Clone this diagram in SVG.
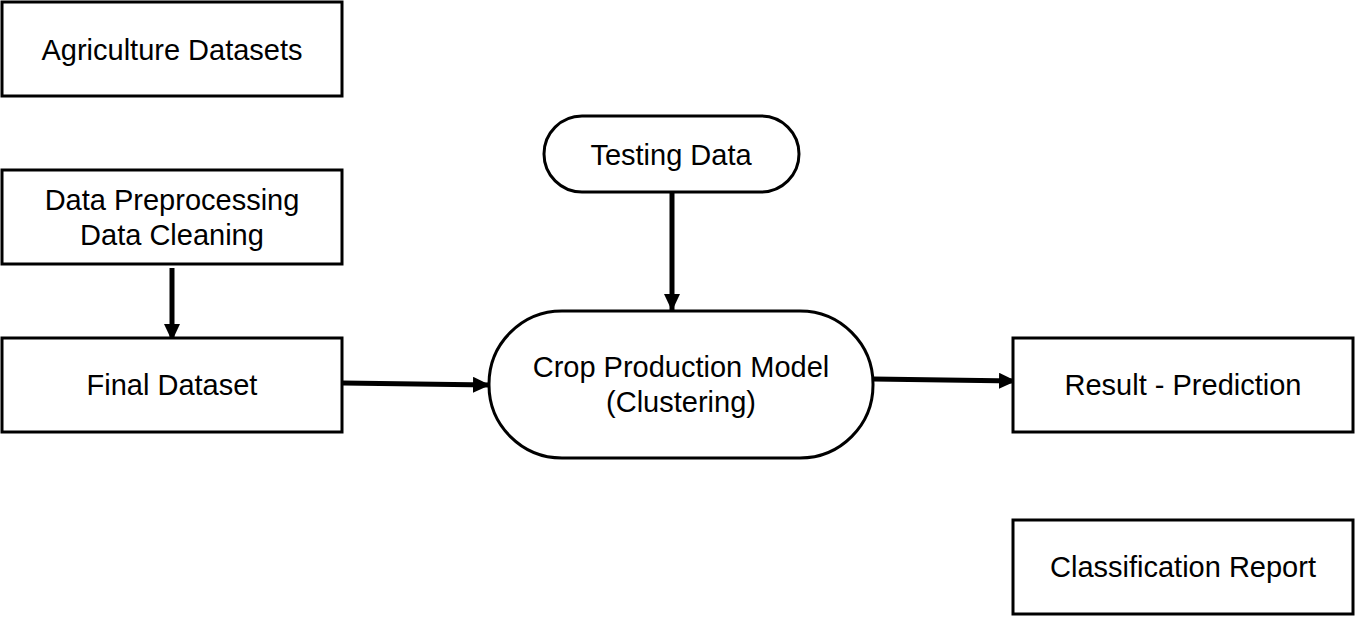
<svg xmlns="http://www.w3.org/2000/svg" width="1355" height="617" viewBox="0 0 1355 617">
<style>
.box{fill:#fff;stroke:#000;stroke-width:3}
.t{font-family:"Liberation Sans",Arial,sans-serif;font-size:29px;fill:#000;text-anchor:middle}
.c{stroke:#000;stroke-width:5;fill:none}
</style>
<defs>
<marker id="ah" markerWidth="3.4" markerHeight="3.2" refX="3.4" refY="1.6" orient="auto" markerUnits="strokeWidth">
<path d="M0,0 L3.4,1.6 L0,3.2 Z" fill="#000"/>
</marker>
</defs>
<rect width="1355" height="617" fill="#fff"/>
<g id="connectors">
<line class="c" x1="172" y1="268" x2="172" y2="341" marker-end="url(#ah)"/>
<line class="c" x1="672" y1="193" x2="672" y2="311" marker-end="url(#ah)"/>
<line class="c" x1="343" y1="383" x2="490" y2="385" marker-end="url(#ah)"/>
<line class="c" x1="873" y1="379" x2="1016" y2="381" marker-end="url(#ah)"/>
</g>
<g id="agri"><rect class="box" x="2" y="2" width="340" height="94"/><text class="t" x="172" y="60">Agriculture Datasets</text></g>
<g id="prep"><rect class="box" x="2" y="170" width="340" height="94"/><text class="t" x="172" y="210">Data Preprocessing</text><text class="t" x="172" y="245">Data Cleaning</text></g>
<g id="final"><rect class="box" x="2" y="338" width="340" height="94"/><text class="t" x="172" y="395">Final Dataset</text></g>
<g id="testing"><rect class="box" x="544" y="116" width="255" height="76" rx="38" ry="38"/><text class="t" x="671" y="165">Testing Data</text></g>
<g id="model"><rect class="box" x="489" y="311" width="384" height="147" rx="73" ry="73"/><text class="t" x="681" y="377">Crop Production Model</text><text class="t" x="681" y="412">(Clustering)</text></g>
<g id="result"><rect class="box" x="1013" y="338" width="340" height="94"/><text class="t" x="1183" y="395">Result - Prediction</text></g>
<g id="report"><rect class="box" x="1013" y="520" width="340" height="94"/><text class="t" x="1183" y="577">Classification Report</text></g>
</svg>
